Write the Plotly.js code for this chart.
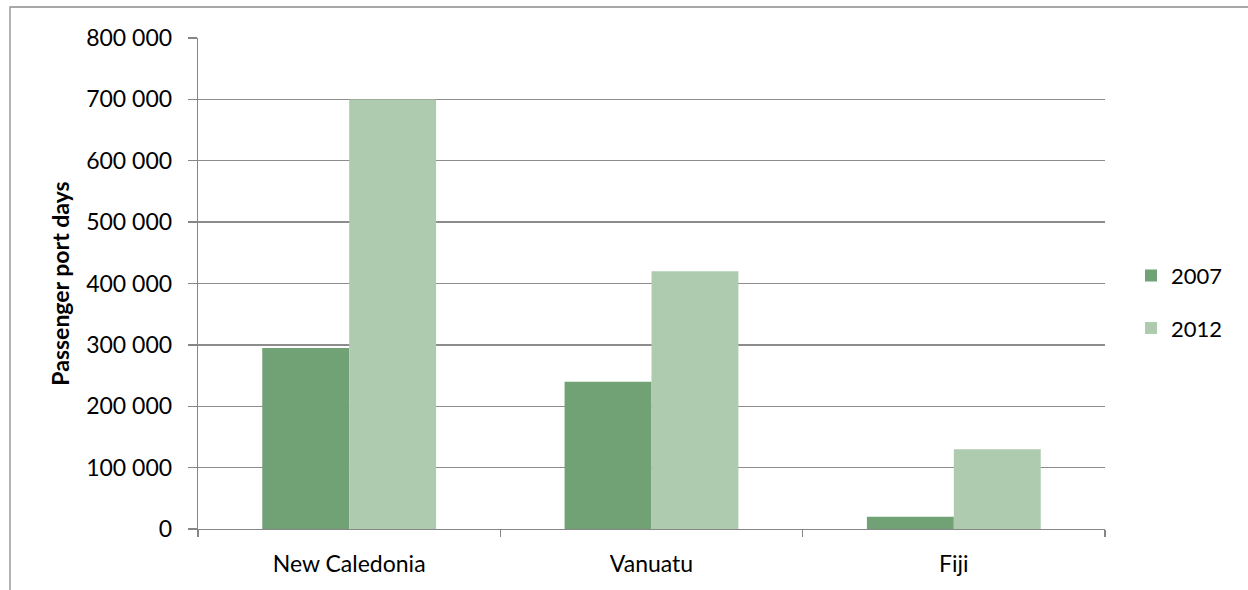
<!DOCTYPE html>
<html>
<head>
<meta charset="utf-8">
<script src="https://cdn.plot.ly/plotly-3.0.1.min.js"></script>
<style>html,body{margin:0;padding:0;background:#fff;}#chart{width:1248px;height:590px;}</style>
</head>
<body>
<div id="chart"></div>
<script>
const categories = ["New Caledonia", "Vanuatu", "Fiji"];
const years = ["2007", "2012"];
const values2007 = [295000, 240000, 20000];
const values2012 = [700000, 420000, 130000];
const yTicks = [0, 100000, 200000, 300000, 400000, 500000, 600000, 700000, 800000];

const colors = ["#71a276", "#afcbaf"];
const series = [values2007, values2012];

const data = series.map((vals, i) => ({
  type: "bar",
  x: categories,
  y: vals,
  name: years[i],
  legendgroup: years[i],
  marker: {color: colors[i], line: {width: 0}},
  hoverinfo: "x+y+name"
}));

const font = "Lato, 'Open Sans', sans-serif";
const fs = 23;
const layout = {
  width: 1248, height: 590,
  margin: {l: 198, r: 143, t: 38, b: 61},
  paper_bgcolor: "#fff", plot_bgcolor: "#fff",
  font: {family: font, size: fs, color: "#000"},
  separators: ". ",
  barmode: "group",
  bargap: 0.425,
  bargroupgap: 0,
  showlegend: true,
  legend: {
    x: (1131 - 198) / 907, y: 0.462, xanchor: "left", yanchor: "middle",
    traceorder: "grouped", tracegroupgap: 21,
    font: {family: font, size: 22}, itemwidth: 30
  },
  xaxis: {
    type: "category",
    showline: true, linecolor: "#868686", linewidth: 1.3,
    ticks: "outside", tickson: "boundaries", ticklen: 7, tickcolor: "#868686", tickwidth: 1.3,
    showgrid: false, zeroline: false,
    ticklabelstandoff: 14,
    tickfont: {family: font, size: fs}
  },
  yaxis: {
    range: [0, 800000],
    tickvals: yTicks,
    tickformat: ",d",
    showline: true, linecolor: "#868686", linewidth: 1.3,
    ticks: "outside", ticklen: 9, tickcolor: "#868686", tickwidth: 1.3,
    showgrid: true, gridcolor: "#8c8c8c", gridwidth: 1.3,
    zeroline: false,
    ticklabelstandoff: 11,
    tickfont: {family: font, size: fs},
    title: {text: "<b>Passenger port days</b>", font: {family: font, size: fs}, standoff: 10}
  },
  shapes: [{
    type: "rect", xref: "paper", yref: "paper",
    x0: (10 - 198) / 907, x1: 1.5,
    y0: -0.5, y1: 1 + 31 / 491,
    line: {color: "#8c8c8c", width: 1.3},
    fillcolor: "rgba(0,0,0,0)", layer: "below"
  }]
};

Plotly.newPlot("chart", data, layout, {displayModeBar: false, staticPlot: true});
</script>
</body>
</html>
